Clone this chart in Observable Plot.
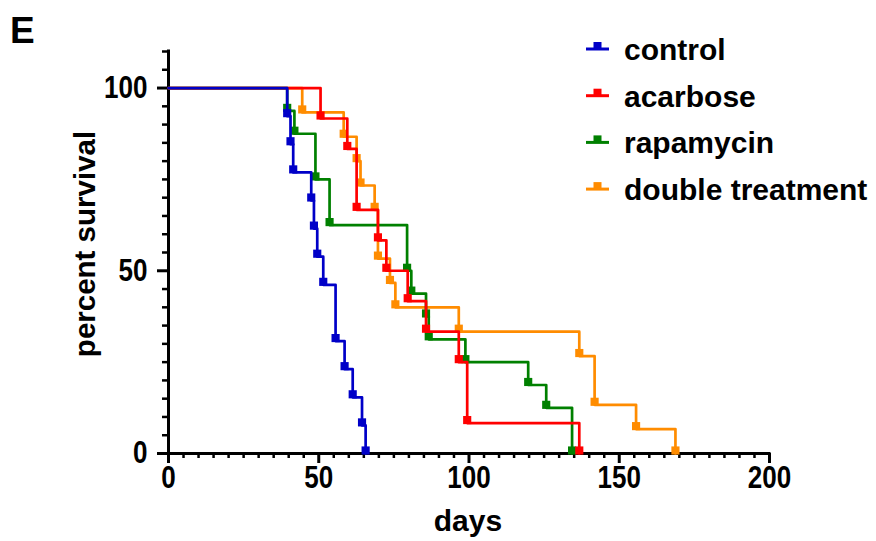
<!DOCTYPE html>
<html><head><meta charset="utf-8">
<script src="https://cdn.jsdelivr.net/npm/d3@7"></script>
<script src="https://cdn.jsdelivr.net/npm/@observablehq/plot@0.6"></script>
<style>
body{margin:0;background:#fff;}
#wrap{position:relative;width:876px;height:541px;}
#wrap svg.overlay{position:absolute;left:0;top:0;pointer-events:none;}
</style></head><body><div id="wrap"></div>
<script>
const seriesNames = ["control", "acarbose", "rapamycin", "double treatment"];
const seriesColors = ["#0000c8", "#ff0000", "#008000", "#ff8c00"];

const controlDays = [39.5, 40.6, 41.5, 47.5, 48.4, 49.5, 51.5, 55.6, 58.6, 61.3, 64.4, 65.6];
const controlSurv = [92.31, 84.62, 76.92, 69.23, 61.54, 53.85, 46.15, 30.77, 23.08, 15.38, 7.69, 0];

const acarboseDays = [50.6, 59.5, 62.6, 69.7, 72.5, 79.6, 85.7, 96.6, 99.4, 136.7];
const acarboseSurv = [91.67, 83.33, 66.67, 58.33, 50, 41.67, 33.33, 25, 8.33, 0];

const rapamycinDays = [39.5, 41.9, 48.9, 53.6, 79.4, 80.8, 85.7, 86.6, 98.8, 119.7, 125.7, 134.3];
const rapamycinSurv = [93.75, 87.5, 75, 62.5, 50, 43.75, 37.5, 31.25, 25, 18.75, 12.5, 0];

const doubleDays = [44.5, 58.3, 62.6, 63.9, 68.6, 69.7, 73.7, 75.5, 96.6, 136.7, 141.8, 155.6, 168.7];
const doubleSurv = [93.33, 86.67, 80, 73.33, 66.67, 53.33, 46.67, 40, 33.33, 26.67, 13.33, 6.67, 0];

const xMajorTicks = [0, 50, 100, 150, 200];
const yMajorTicks = [0, 50, 100];
const xLabel = "days";
const yLabel = "percent survival";
const panelLetter = "E";

const seriesDays = [controlDays, acarboseDays, rapamycinDays, doubleDays];
const seriesSurv = [controlSurv, acarboseSurv, rapamycinSurv, doubleSurv];

function buildRows(i) {
  const rows = [{series: seriesNames[i], day: 0, surv: 100, event: false}];
  seriesDays[i].forEach((d, j) => rows.push({series: seriesNames[i], day: d, surv: seriesSurv[i][j], event: true}));
  return rows;
}
const allRows = seriesNames.map((_, i) => buildRows(i));

const xMinor = d3.range(0, 201, 5).filter(d => d % 50 !== 0);
const yMinor = d3.range(0, 111, 5).filter(d => d % 50 !== 0);

const drawOrder = [3, 2, 1, 0];
const seriesMarks = [];
for (const i of drawOrder) {
  seriesMarks.push(Plot.line(allRows[i], {x: "day", y: "surv", curve: "step-after", stroke: seriesColors[i], strokeWidth: 2.7}));
  seriesMarks.push(Plot.dot(allRows[i].filter(r => r.event), {x: "day", y: "surv", symbol: "square", r: 4.6, fill: seriesColors[i], dy: -3}));
}

const font = "'Liberation Sans', Arial, Helvetica, sans-serif";

const chart = Plot.plot({
  width: 876, height: 541,
  marginLeft: 168, marginRight: 107, marginTop: 51, marginBottom: 88,
  x: {domain: [0, 200]},
  y: {domain: [0, 110]},
  style: {fontFamily: font, fontWeight: "bold", color: "#000", background: "#fff", overflow: "visible"},
  marks: [
    Plot.axisX(xMinor, {tickSize: 5, strokeWidth: 2.5, tickFormat: () => "", label: null}),
    Plot.axisX(xMajorTicks, {tickSize: 10, strokeWidth: 3, tickPadding: 2, label: null, fontSize: 31}),
    Plot.axisY(yMinor, {tickSize: 6, strokeWidth: 2.5, tickFormat: () => "", label: null}),
    Plot.axisY(yMajorTicks, {tickSize: 11, strokeWidth: 3, tickPadding: 10, label: null, fontSize: 31}),
    Plot.ruleY([0], {strokeWidth: 3, strokeLinecap: "square"}),
    Plot.ruleX([0], {strokeWidth: 3, strokeLinecap: "square"}),
    ...seriesMarks
  ]
});
const wrap = document.getElementById("wrap");
wrap.appendChild(chart);

// condense tick label glyphs horizontally, like the reference
d3.select(chart).selectAll("text").each(function() {
  const t = d3.select(this);
  if (!/^\d+$/.test(t.text())) return;
  const tr = t.attr("transform") || "";
  t.attr("transform", tr + " scale(0.84,1)");
});

// overlay for titles and legend
const ov = d3.select(wrap).append("svg").attr("class", "overlay")
  .attr("width", 876).attr("height", 541)
  .style("font-family", font).style("font-weight", "bold");
ov.append("text").attr("x", 10).attr("y", 43).attr("font-size", 37).text(panelLetter);
ov.append("text").attr("transform", "translate(95,244) rotate(-90)").attr("text-anchor", "middle").attr("font-size", 29.5).text(yLabel);
ov.append("text").attr("x", 468).attr("y", 531).attr("text-anchor", "middle").attr("font-size", 30).text(xLabel);

const legendTop = 49, legendStep = 46.7;
seriesNames.forEach((name, i) => {
  const cy = legendTop + i * legendStep;
  const g = ov.append("g");
  g.append("line").attr("x1", 586).attr("x2", 609).attr("y1", cy).attr("y2", cy).attr("stroke", seriesColors[i]).attr("stroke-width", 3);
  g.append("rect").attr("x", 593.5).attr("y", cy - 7).attr("width", 8).attr("height", 7).attr("fill", seriesColors[i]);
  g.append("text").attr("x", 624).attr("y", cy + 11).attr("font-size", 30).text(name);
});
</script>
</body></html>
